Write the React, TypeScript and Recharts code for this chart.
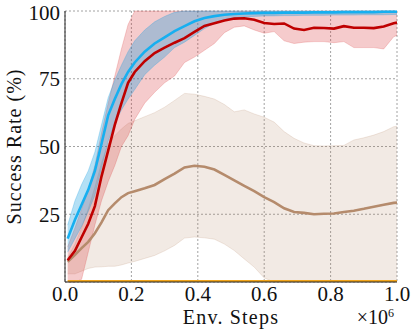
import React from 'react';
import { ComposedChart, Area, Line, XAxis, YAxis, CartesianGrid, Label } from 'recharts';

// env steps (x 1e6)
const steps = [0.008, 0.03, 0.05, 0.07, 0.09, 0.11, 0.13, 0.15, 0.17, 0.19, 0.21, 0.24, 0.27, 0.3, 0.33, 0.36, 0.39, 0.42, 0.45, 0.48, 0.51, 0.54, 0.57, 0.6, 0.63, 0.66, 0.69, 0.72, 0.75, 0.78, 0.81, 0.84, 0.87, 0.9, 0.93, 0.96, 0.99, 1.0];

const blueMean = [16, 23, 28.5, 34, 41, 51, 61.5, 67.5, 73, 77.5, 81, 85, 88, 90.3, 92.6, 94.4, 96.2, 97.4, 98.1, 98.6, 98.9, 99.1, 99.2, 99.3, 99.3, 99.4, 99.4, 99.4, 99.5, 99.5, 99.5, 99.6, 99.6, 99.6, 99.6, 99.7, 99.7, 99.7];
const blueLow = [11, 16, 20.5, 26, 32, 42, 52, 58.5, 63.5, 67.5, 71, 76.5, 80, 83, 86.5, 88.5, 91, 93.5, 95.5, 96.8, 97.5, 97.8, 98, 98.2, 98.2, 98.3, 98.3, 98.4, 98.4, 98.4, 98.5, 98.5, 98.5, 98.6, 98.6, 98.6, 98.7, 98.7];
const blueHigh = [21, 30, 36, 41, 48, 58, 68, 74.5, 80, 85, 89, 93, 96, 98, 99.5, 100, 100, 100, 100, 100, 100, 100, 100, 100, 100, 100, 100, 100, 100, 100, 100, 100, 100, 100, 100, 100, 100, 100];

const redMean = [8, 11.5, 16.5, 21.5, 28, 39, 48.5, 58, 66, 73.5, 77.5, 81.5, 84.5, 86.5, 88.3, 90, 92.3, 94.5, 95.5, 96.5, 97.2, 97.3, 96.8, 95.6, 95.2, 95.4, 93.5, 93, 93.8, 93.7, 93.5, 94.4, 93.8, 93.8, 93.7, 94.3, 95.5, 95.7];
const redLow = [0, 0, 1, 11, 21, 30, 37, 43, 50, 54, 60, 66, 70, 73.5, 76, 81, 83, 85.5, 88, 92, 94, 94.5, 93, 91.8, 92.4, 89, 88, 88.5, 88.7, 88.7, 88.3, 88.7, 86.5, 86.5, 86.5, 86, 90.5, 91];
const redHigh = [13, 20, 27, 34, 43, 55, 66, 76, 86, 95, 100, 100, 100, 100, 100, 100, 100, 100, 100, 100, 100, 100, 100, 100, 100, 100, 100, 100, 100, 100, 100, 100, 100, 100, 100, 100, 100, 99];

const brownMean = [7.5, 10, 12.5, 14.8, 18, 22, 26.5, 29, 31.3, 32.8, 33.5, 34.6, 35.8, 38, 40, 42.3, 42.9, 42.5, 41.5, 39.5, 37.5, 35.5, 33.5, 31.3, 29.5, 27.2, 25.8, 25.5, 25, 25.2, 25.3, 25.8, 26.3, 27, 27.8, 28.5, 29.2, 29.3];
const brownLow = [3, 3, 4, 5, 5.5, 5.6, 5.8, 5.8, 6.3, 7, 7.6, 8.7, 9.8, 11.5, 13.5, 16.2, 16.6, 16.3, 15.8, 14, 11.6, 8.5, 5.5, 1.5, 0, 0, 0, 0, 0, 0, 0, 0, 0, 0, 0, 0, 0, 0];
const brownHigh = [9, 14, 20, 27, 35, 44, 51, 54, 56.5, 58.5, 59.5, 61, 62.5, 64.5, 67, 69.6, 69.3, 68.5, 67.5, 65.5, 62.8, 63.5, 62, 60.8, 59, 55.5, 53, 51.3, 50.3, 50.2, 50.3, 50.4, 52.4, 53.2, 54.2, 55.5, 57.3, 57.5];

const orangeMean = [0.4, 0.4, 0.4, 0.4, 0.4, 0.4, 0.4, 0.4, 0.4, 0.4, 0.4, 0.4, 0.4, 0.4, 0.4, 0.4, 0.4, 0.4, 0.4, 0.4, 0.4, 0.4, 0.4, 0.4, 0.4, 0.4, 0.4, 0.4, 0.4, 0.4, 0.4, 0.4, 0.4, 0.4, 0.4, 0.4, 0.4, 0.4];

const xMajor = [0, 0.2, 0.4, 0.6, 0.8, 1.0];
const xMinor = [0.05, 0.1, 0.15, 0.25, 0.3, 0.35, 0.45, 0.5, 0.55, 0.65, 0.7, 0.75, 0.85, 0.9, 0.95];
const yMajor = [0, 25, 50, 75, 100];
const yLabels = [25, 50, 75, 100];
const yMinor = [5, 10, 15, 20, 30, 35, 40, 45, 55, 60, 65, 70, 80, 85, 90, 95];

const data = steps.map((x, i) => ({
  x,
  blue: blueMean[i],
  blueBand: [blueLow[i], blueHigh[i]],
  red: redMean[i],
  redBand: [redLow[i], redHigh[i]],
  brown: brownMean[i],
  brownBand: [brownLow[i], brownHigh[i]],
  orange: orangeMean[i],
}));

const FONT = 'Liberation Serif';
const INK = '#222';
const txt = { fontFamily: FONT };

const App: React.FC = () => {
  return (
    <div style={{ position: 'absolute', left: 0, top: 0, width: 415, height: 332, fontFamily: FONT }}>
      <ComposedChart width={415} height={332} data={data} margin={{ top: 11, right: 18, left: 0, bottom: 0 }} style={txt}>
        <CartesianGrid xAxisId="main" yAxisId="main" stroke="#8a8a8a" strokeDasharray="2 2" strokeWidth={0.8} />

        <XAxis
          xAxisId="main"
          dataKey="x"
          type="number"
          domain={[0, 1]}
          ticks={xMajor}
          tickFormatter={(v: number) => v.toFixed(1)}
          height={50}
          tickLine={false}
          tickSize={0}
          tickMargin={4}
          axisLine={{ stroke: INK }}
          tick={{ fill: '#111', fontSize: 21, style: txt }}
        >
          <Label value="Env. Steps" position="insideBottom" offset={8} style={{ fontSize: 20, fontFamily: FONT, fill: '#111', letterSpacing: 1.2 }} />
          <Label
            content={({ viewBox }: any) => (
              <text
                x={viewBox.x + viewBox.width - 3}
                y={viewBox.y + viewBox.height - 8}
                textAnchor="end"
                fontSize={20}
                style={txt}
                fill="#111"
              >
                ×10<tspan dy={-7.5} fontSize={12}>6</tspan>
              </text>
            )}
          />
        </XAxis>
        <XAxis xAxisId="bMaj" type="number" domain={[0, 1]} ticks={xMajor} orientation="bottom" mirror height={0} tick={false} tickSize={5} axisLine={false} tickLine={{ stroke: INK }} />
        <XAxis xAxisId="bMin" type="number" domain={[0, 1]} ticks={xMinor} orientation="bottom" mirror height={0} tick={false} tickSize={2.5} axisLine={false} tickLine={{ stroke: INK }} />
        <XAxis xAxisId="tMaj" type="number" domain={[0, 1]} ticks={xMajor} orientation="top" mirror height={0} tick={false} tickSize={5} axisLine={{ stroke: INK }} tickLine={{ stroke: INK }} />
        <XAxis xAxisId="tMin" type="number" domain={[0, 1]} ticks={xMinor} orientation="top" mirror height={0} tick={false} tickSize={2.5} axisLine={false} tickLine={{ stroke: INK }} />

        <YAxis
          yAxisId="main"
          type="number"
          domain={[0, 100]}
          ticks={yLabels}
          width={65}
          tickLine={false}
          tickSize={0}
          tickMargin={5}
          axisLine={{ stroke: INK }}
          tick={{ fill: '#111', fontSize: 21, style: txt }}
        >
          <Label
            content={({ viewBox }: any) => (
              <text
                transform={`translate(${viewBox.x + 21},${viewBox.y + viewBox.height / 2}) rotate(-90)`}
                textAnchor="middle"
                fontSize={20}
                style={{ ...txt, letterSpacing: 1 }}
                fill="#111"
              >
                Success Rate (%)
              </text>
            )}
          />
        </YAxis>
        <YAxis yAxisId="lMaj" type="number" domain={[0, 100]} ticks={yMajor} orientation="left" mirror width={0} tick={false} tickSize={5} axisLine={false} tickLine={{ stroke: INK }} />
        <YAxis yAxisId="lMin" type="number" domain={[0, 100]} ticks={yMinor} orientation="left" mirror width={0} tick={false} tickSize={2.5} axisLine={false} tickLine={{ stroke: INK }} />
        <YAxis yAxisId="rMaj" type="number" domain={[0, 100]} ticks={yMajor} orientation="right" mirror width={0} tick={false} tickSize={5} axisLine={{ stroke: INK }} tickLine={{ stroke: INK }} />
        <YAxis yAxisId="rMin" type="number" domain={[0, 100]} ticks={yMinor} orientation="right" mirror width={0} tick={false} tickSize={2.5} axisLine={false} tickLine={{ stroke: INK }} />

        <Area xAxisId="main" yAxisId="main" type="linear" dataKey="brownBand" fill="#b0805c" fillOpacity={0.17} stroke="#b0805c" strokeOpacity={0.18} strokeWidth={1} isAnimationActive={false} activeDot={false} />
        <Area xAxisId="main" yAxisId="main" type="linear" dataKey="redBand" fill="#d62728" fillOpacity={0.24} stroke="#d62728" strokeOpacity={0.2} strokeWidth={1} isAnimationActive={false} activeDot={false} />
        <Area xAxisId="main" yAxisId="main" type="linear" dataKey="blueBand" fill="#0898de" fillOpacity={0.3} stroke="#0898de" strokeOpacity={0.25} strokeWidth={1} isAnimationActive={false} activeDot={false} />

        <Line xAxisId="main" yAxisId="main" type="linear" dataKey="orange" stroke="#f2a51a" strokeWidth={2} dot={false} activeDot={false} isAnimationActive={false} />
        <Line xAxisId="main" yAxisId="main" type="linear" dataKey="brown" stroke="#b58b6c" strokeWidth={2.6} dot={false} activeDot={false} isAnimationActive={false} />
        <Line xAxisId="main" yAxisId="main" type="linear" dataKey="red" stroke="#bf0000" strokeWidth={2.6} dot={false} activeDot={false} isAnimationActive={false} />
        <Line xAxisId="main" yAxisId="main" type="linear" dataKey="blue" stroke="#17aff0" strokeWidth={2.6} dot={false} activeDot={false} isAnimationActive={false} />
      </ComposedChart>
    </div>
  );
};

export default App;
